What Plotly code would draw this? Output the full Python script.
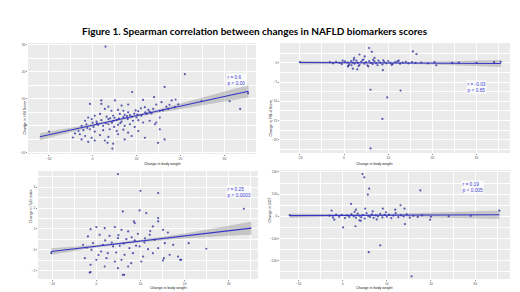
import plotly.graph_objects as go

# ---------------- text ----------------
title = "Figure 1. Spearman correlation between changes in NAFLD biomarkers scores"
x_title = "Change in body weight"
y_titles = ["Change in HSI Score", "Change in FIB-4 Score", "Change in TyG index", "Change in GGT"]
stats = ["r = 0.6<br>p < 0.00", "r = -0.03<br>p < 0.65", "r = 0.25<br>p < 0.0003", "r = 0.19<br>p < 0.005"]

x_ticks = [-10, 0, 10, 20, 30]
hsi_ticks = [-10, 0, 10, 20, 30]
fib_ticks = [-20, -15, -10, -5, 0]
tyg_ticks = [-1, 0, 1, 2, 3]
ggt_ticks = [-200, -100, 0, 100, 200]

# ---------------- data: HSI ----------------
hsi_x = [-9.9, 2.95, 21, 16.4, 9, 35.4, 31.2, 33.6, 24.8, 18.9, 16.4, 11.9, 4.5, 3.4, 0.5,
         2.0, 5.1, 11.5, 14.0, 15.7, 18.0,
         -0.6, 2.0, 3.6, 6.6, 8.1, 11.9, 14.5, 16.8,
         2.8, 4.3, 5.8, 7.0, 8.1, 10.4, 12.7, 13.8, 15.3, 17.2, 18.7,
         -1.0, 0.5, 1.7, 3.2, 4.7, 6.2, 7.3, 8.9, 10.0, 11.1, 12.3, 13.4, 15.3,
         -1.7, -0.2, 0.9, 2.0, 3.6, 4.7, 5.5, 6.6, 8.0, 9.2, 10.4, 11.5, 13.0, 14.5,
         -2.5, -1.4, 0.2, 1.3, 2.4, 3.6, 4.9, 5.8, 7.3, 8.5, 9.6, 14.2,
         -2.1, -0.6, 0.5, 2.4, 3.9, 5.5, 7.0, 8.1, 10.4, 15.3,
         -2.9, -1.7, -0.2, 1.7, 3.6, 5.8, 8.9,
         -2.5, -1.0, 2.8, 4.7, 7.3, 14.9,
         4.0, 5.0, 6.0, 7.0, 7.8, 8.5, 9.5, 10.2, 4.4, 6.3, 3.0, 1.0, 0.0, -1.2, -3.2, -4.0, -4.5,
         9.8, 12.0, 13.0, 16.0, 17.5, 19.5, 11.0]
hsi_y = [-2.1, 29.3, 19.1, 14.4, 12.5, 12.1, 9.1, 6.25, 9.1, 9.75, -5, -4.4, -8.4, -6.25, -5.4,
         9.4, 9.4, 9.6, 10.6, 8.75, 9.4,
         8.1, 8.1, 7.1, 7.5, 7.9, 6.9, 7.9, 7.1,
         6.25, 5.6, 5.9, 5.6, 5.0, 5.4, 5.9, 6.25, 5.6, 6.25, 6.9,
         3.1, 3.75, 4.4, 3.4, 3.75, 4.4, 4.1, 3.4, 3.1, 3.75, 4.4, 4.6, 3.1,
         1.9, 2.5, 1.6, 2.1, 2.5, 1.9, 2.25, 1.6, 2.5, 1.9, 2.1, 1.25, 1.9, 1.25,
         0, 0.6, -0.4, 0.4, 0, 0.6, -0.4, 0.4, 0, 0.6, -0.4, 0.6,
         -1.6, -1.25, -2.1, -1.6, -1.25, -1.9, -1.4, -2.5, -1.9, -1.25,
         -3.1, -3.75, -4.4, -3.4, -4.1, -3.1, -3.75,
         -5, -5.9, -5.4, -6.6, -5, -6.25,
         2.8, 3.0, 2.7, 3.2, 3.6, 4.0, 4.5, 4.2, 1.2, 1.0, 1.0, 0.9, 1.2, -0.8, -1.9, -2.8, -4.3,
         5.7, 5.0, 5.3, 5.8, 7.8, 8.0, 6.5]
hsi_fit_x = [-12, -5, 0, 5, 10, 15, 20, 25, 30, 35.5]
hsi_fit_y = [-4.0, -1.53, 0.24, 2.0, 3.77, 5.53, 7.3, 9.06, 10.83, 12.77]
hsi_lo = [-5.3, -2.33, -0.26, 1.6, 3.32, 4.88, 6.35, 7.76, 9.03, 10.47]
hsi_hi = [-2.7, -0.73, 0.74, 2.4, 4.22, 6.18, 8.25, 10.36, 12.63, 15.07]

# ---------------- data: FIB-4 ----------------
fib_x = [5.7, 6.3, 3.5, 15.6, 16.4, 6.0, 12.8, 9.8, 8.7, 6.0, 8.8, 0.9, 3.0, 2.0, 1.7, 20.9, 2.3, 4.7, 6.9, -10, 35.5, 34,
         -3.2, -2.5, -1.8, -1.0, -0.5, 0.2, 0.8, 1.2, 1.6, 2.0, 2.4, 2.8, 3.1, 3.5, 3.9, 4.2, 4.6, 5.0, 5.3, 5.7,
         6.1, 6.5, 6.9, 7.3, 7.8, 8.2, 8.7, 9.1, 9.6, 10.0, 10.5, 11.0, 11.6, 12.1, 12.7, 13.3, 14.0, 14.6, 15.4,
         16.2, 17.5, 19.0, 20.5, 24.5, -0.3, 1.0, 2.2, 3.3, 4.4, 5.5, 6.6, 7.6, 8.9, 10.8, 12.4, 26, 30]
fib_y = [3.9, 2.9, 2.2, 3.0, 2.3, -7.0, -7.2, -9.0, -14.6, -22.3, -1.9, -0.9, -1.7, -1.5, -0.6, -0.6, 1.3, 1.7, 1.3, 0.2, 0.3, 0.2,
         0.2, -0.1, 0.3, 0.0, -0.3, 0.4, 0.1, -0.4, 0.5, 0.1, -0.2, 0.6, 0.0, -0.5, 0.3, 0.7, -0.2, 0.2, -0.6, 0.5,
         0.0, -0.3, 0.4, -0.1, 0.6, 0.1, -0.4, 0.3, -0.1, 0.5, 0.0, -0.3, 0.2, 0.4, -0.2, 0.1, 0.3, -0.1, 0.2,
         0.0, 0.1, -0.1, 0.2, 0.0, 0.6, -0.7, 0.8, -0.8, 0.9, -0.9, 0.8, -0.6, 0.7, -0.5, 0.6, 0.1, 0.0]
fib_fit_x = [-10, 0, 10, 20, 35.5]
fib_fit_y = [0.1, 0.05, 0.0, -0.05, -0.15]
fib_lo = [-0.4, -0.2, -0.2, -0.4, -1.05]
fib_hi = [0.6, 0.3, 0.2, 0.3, 0.75]

# ---------------- data: TyG ----------------
tyg_x = [4.9, 10.0, 14.0, 33.4, 6.3, -1.3, 15.3, 19.0, 8.5, -10.2, 24.9, 20.9,
         6.0, 9.8, 11.3, 14.0, 14.0, 12.8, 8.7, -1.3, 0.0, 1.9, 4.2, 5.7, 7.2, 9.4, 12.1, 15.1, 16.2,
         -1.9, 0.75, 3.0, 4.9, 6.8, 8.7, 10.9, 13.2, 15.5, -3.0, -0.75, 1.5, 3.8, 5.3, 7.5, 9.8, 11.7, 14.0,
         17.4, -1.1, 1.1, 2.6, 4.5, 6.4, 8.3, 10.6, 12.8, 16.6, -2.6, 0.0, 2.3, 4.2, 5.7, 7.9, 10.2,
         15.1, 19.2, -1.3, 1.9, 4.9, 7.2, -1.5, 6.0, 18.5, 2.0, 3.5, 5.0, 6.2, 8.0, 9.0, 11.0, 12.2, -2.2, 0.5]
tyg_y = [3.63, 2.83, 2.72, 1.97, -1.2, -1.07, -0.4, -0.48, 1.36, -0.15, 0.05, 0.32,
         1.84, 1.89, 1.76, 1.52, 1.36, 1.12, 1.28, 0.99, 1.09, 1.04, 1.09, 0.96, 0.88, 0.77, 0.72, 0.96, 0.83,
         0.64, 0.72, 0.67, 0.56, 0.51, 0.45, 0.35, 0.48, 0.32, 0.24, 0.32, 0.24, 0.16, 0.19, 0.08, 0.16, 0.03, 0.08,
         0.24, 0.0, -0.08, -0.16, -0.13, -0.24, -0.16, -0.32, -0.16, -0.24, -0.4, -0.48, -0.4, -0.56, -0.48, -0.64, -0.56,
         -0.51, -0.48, -0.72, -0.8, -0.88, -0.8, -1.09, -1.2, -0.32, 0.45, 0.35, 0.7, 0.3, 0.6, 0.2, 0.55, 0.9, 0.1, -0.25]
tyg_fit_x = [-10.2, -5, 0, 5, 10, 15, 20, 25, 30, 35.1]
tyg_fit_y = [-0.08, 0.048, 0.172, 0.295, 0.419, 0.542, 0.666, 0.79, 0.913, 1.04]
tyg_lo = [-0.24, -0.052, 0.112, 0.245, 0.364, 0.462, 0.546, 0.62, 0.673, 0.72]
tyg_hi = [0.08, 0.148, 0.232, 0.345, 0.474, 0.622, 0.786, 0.96, 1.153, 1.36]

# ---------------- data: GGT ----------------
ggt_x = [4.5, 4.9, 6.0, 5.7, 17.6, 1.9, 3.0, 5.1, 9.1, 13.1, 14.0, 11.9, 0.1, 2.9, 8.5, 5.9, 15.6, 14.1, 19.8, 35.5, -2.5, -1.9, 3.8, -12,
         -3.0, -2.2, -1.5, -0.8, -0.2, 0.5, 1.0, 1.5, 2.0, 2.5, 3.0, 3.4, 3.8, 4.2, 4.6, 5.0, 5.4, 5.8, 6.2, 6.6,
         7.0, 7.5, 8.0, 8.5, 9.0, 9.5, 10.0, 10.5, 11.0, 11.5, 12.0, 12.6, 13.2, 13.8, 14.5, 15.2, 16.0, 17.0, 18.0,
         20.0, 24.0, 29, 2.7, 6.8, 9.8, 4.1, 7.7]
ggt_y = [191, 176, 125, 98, 117, 56, 30, 35, 35, 50, 35, 30, -50, -45, -131, -162, -271, -35, -15, 26, 26, -15, -18, 5,
         3, -5, 8, -2, 6, -8, 4, -3, 10, 0, -6, 12, 2, -4, 7, -10, 15, 1, -3, 9,
         -7, 4, 0, 11, -5, 6, -2, 8, -8, 3, 14, -4, 5, -1, 9, -6, 2, -3, 4,
         -2, 0, 2, 20, 22, 18, -20, -14]
ggt_fit_x = [-12, 0, 10, 20, 35.5]
ggt_fit_y = [3, 4, 5, 6, 7]
ggt_lo = [-7, -1, 0, -3, -12]
ggt_hi = [13, 9, 10, 15, 26]

# ---------------- layout helpers ----------------
W, H = 520, 292
panels = [
    dict(x=hsi_x, y=hsi_y, fx=hsi_fit_x, fy=hsi_fit_y, lo=hsi_lo, hi=hsi_hi, yt=hsi_ticks,
         box=(20, 248, 35, 146), xr=[-14.7, 37.2], yr=[-10.4, 30.64], stat=(228, 65), ytx=12),
    dict(x=fib_x, y=fib_y, fx=fib_fit_x, fy=fib_fit_y, lo=fib_lo, hi=fib_hi, yt=fib_ticks,
         box=(272, 502, 35, 145), xr=[-14.5, 37.6], yr=[-23.5, 5.2], stat=(479, 72), ytx=262),
    dict(x=tyg_x, y=tyg_y, fx=tyg_fit_x, fy=tyg_fit_y, lo=tyg_lo, hi=tyg_hi, yt=tyg_ticks,
         box=(30, 250, 163, 271), xr=[-13.2, 36.6], yr=[-1.4, 3.78], stat=(231, 184), ytx=19),
    dict(x=ggt_x, y=ggt_y, fx=ggt_fit_x, fy=ggt_fit_y, lo=ggt_lo, hi=ggt_hi, yt=ggt_ticks,
         box=(272, 502, 162, 271), xr=[-14.2, 37.9], yr=[-283, 209], stat=(476, 179), ytx=261),
]
x_title_y = [155.5, 155.5, 283.5, 283.5]

fig = go.Figure()
annotations = []
layout = dict(width=W, height=H, margin=dict(l=0, r=0, t=0, b=0),
              paper_bgcolor="white", plot_bgcolor="#ebebeb", showlegend=False)

tick_font = dict(family="Liberation Sans", size=3.3, color="#555555")
for i, p in enumerate(panels):
    k = "" if i == 0 else str(i + 1)
    xa, ya = "x" + k, "y" + k
    l, r, t, b = p["box"]
    # confidence band
    fig.add_trace(go.Scatter(x=p["fx"] + p["fx"][::-1], y=p["hi"] + p["lo"][::-1],
                             fill="toself", fillcolor="rgba(150,150,150,0.45)",
                             line=dict(width=0), mode="lines", hoverinfo="skip",
                             xaxis=xa, yaxis=ya))
    # points
    fig.add_trace(go.Scatter(x=p["x"], y=p["y"], mode="markers",
                             marker=dict(size=2.2, color="#26269a", opacity=0.75, line=dict(width=0)),
                             xaxis=xa, yaxis=ya))
    # fit line
    fig.add_trace(go.Scatter(x=p["fx"], y=p["fy"], mode="lines",
                             line=dict(color="#3434c8", width=1.1), xaxis=xa, yaxis=ya))
    ydt = p["yt"][1] - p["yt"][0]
    layout["xaxis" + k] = dict(domain=[l / W, r / W], anchor=ya, range=p["xr"],
                               tickvals=x_ticks, ticks="outside", ticklen=1, tickcolor="#888",
                               tickwidth=0.5, tickfont=tick_font, showgrid=True,
                               gridcolor="white", gridwidth=0.6, zeroline=False,
                               minor=dict(dtick=5, tick0=-15, showgrid=True, gridcolor="white", gridwidth=0.3, ticks=""),
                               showline=False)
    layout["yaxis" + k] = dict(domain=[1 - b / H, 1 - t / H], anchor=xa, range=p["yr"],
                               tickvals=p["yt"], ticks="outside", ticklen=1, tickcolor="#888",
                               tickwidth=0.5, tickfont=tick_font, showgrid=True,
                               gridcolor="white", gridwidth=0.6, zeroline=False,
                               minor=dict(dtick=ydt / 2, tick0=p["yt"][0] - ydt / 2, showgrid=True,
                                          gridcolor="white", gridwidth=0.3, ticks=""),
                               showline=False)
    # stat text
    annotations.append(dict(x=p["stat"][0] / W, y=1 - p["stat"][1] / H, xref="paper", yref="paper",
                            text=stats[i], showarrow=False, align="left",
                            font=dict(family="Liberation Sans", size=4.8, color="#3a3ad0"),
                            bgcolor="rgba(255,255,255,0.75)", borderpad=0.5))
    # axis titles
    annotations.append(dict(x=(l + r) / 2 / W, y=1 - x_title_y[i] / H, xref="paper", yref="paper",
                            text=x_title, showarrow=False,
                            font=dict(family="Liberation Sans", size=3.6, color="#222")))
    annotations.append(dict(x=p["ytx"] / W, y=1 - (t + b) / 2 / H, xref="paper", yref="paper",
                            text=y_titles[i], showarrow=False, textangle=-90,
                            font=dict(family="Liberation Sans", size=3.6, color="#222")))

annotations.append(dict(x=72 / W, y=1 - 15 / H, xref="paper", yref="paper", xanchor="left",
                        text="<b>" + title + "</b>",
                        showarrow=False, font=dict(family="Lato", size=10, color="black")))
layout["annotations"] = annotations
fig.update_layout(**layout)
fig.write_html("out.html")
